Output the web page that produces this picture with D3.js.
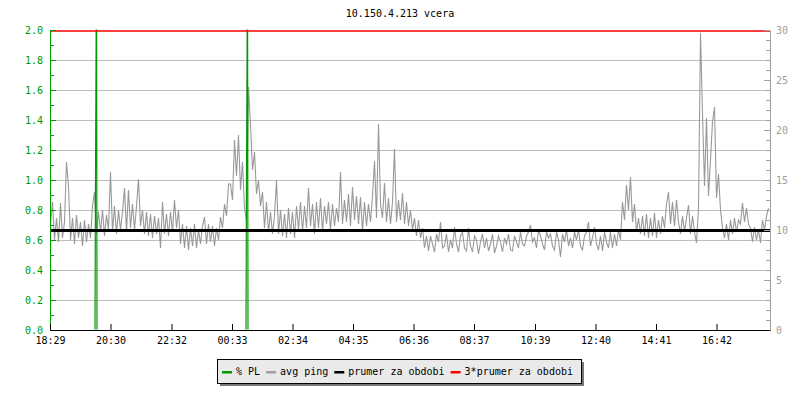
<!DOCTYPE html>
<html><head><meta charset="utf-8">
<script src="https://cdn.jsdelivr.net/npm/d3@7"></script>
<style>body{margin:0;background:#fff} svg{display:block} text{font-family:"DejaVu Sans Mono",monospace;font-size:10px}</style>
</head><body><svg id="c" width="800" height="400"></svg>
<script>
const title = "10.150.4.213 vcera";
const startLabel = "18:29";
const stepMinutes = 4;
const pingValues = [
10.6, 12.8, 9.0, 11.2, 8.8, 12.7, 9.2, 10.8, 16.8, 14.4,
9.0, 11.2, 8.6, 11.5, 9.2, 10.8, 8.4, 11.0, 8.8, 10.6,
9.2, 12.4, 13.8, 9.6, 11.8, 9.8, 12.0, 9.4, 11.5, 10.0,
15.8, 9.8, 12.4, 9.6, 12.0, 10.0, 11.8, 14.2, 9.8, 14.0,
10.2, 12.6, 10.0, 12.4, 15.1, 10.4, 12.0, 9.6, 11.8, 9.4,
11.6, 9.2, 11.4, 9.6, 11.2, 8.2, 12.8, 9.6, 11.6, 9.4,
11.8, 9.8, 13.0, 10.2, 12.0, 8.6, 10.6, 8.2, 10.4, 8.0,
10.2, 8.4, 10.6, 8.2, 10.0, 8.6, 10.4, 11.3, 8.6, 10.6,
8.8, 10.4, 8.4, 10.2, 9.0, 11.3, 10.2, 12.6, 11.4, 14.6,
14.6, 13.0, 19.0, 15.4, 19.5, 14.0, 16.8, 12.2, 11.0, 24.3,
20.5, 16.0, 17.8, 13.6, 15.0, 12.4, 13.8, 10.2, 12.8, 9.8,
11.8, 9.6, 11.4, 15.0, 9.6, 12.0, 9.4, 11.6, 9.2, 12.2,
9.6, 11.8, 9.2, 12.4, 10.0, 12.8, 9.8, 12.4, 10.2, 14.2,
10.4, 12.6, 9.6, 12.8, 10.2, 13.2, 9.8, 12.4, 10.6, 12.8,
10.0, 12.6, 10.4, 12.2, 10.8, 15.8, 10.6, 13.0, 10.8, 13.6,
10.4, 14.3, 11.0, 13.4, 10.6, 13.3, 9.8, 12.8, 10.4, 12.6,
10.8, 13.4, 16.9, 11.2, 20.6, 12.6, 11.2, 14.7, 10.8, 13.2,
10.6, 12.8, 18.1, 10.8, 13.0, 11.0, 13.7, 10.6, 12.8, 10.4,
12.0, 10.0, 11.2, 9.4, 11.0, 9.2, 10.2, 8.2, 9.4, 7.9,
9.4, 8.6, 7.8, 9.6, 8.8, 10.8, 8.2, 8.4, 9.6, 7.8,
9.0, 8.2, 10.3, 8.6, 7.8, 9.4, 9.8, 8.2, 7.9, 10.2,
8.4, 7.8, 9.4, 9.0, 7.6, 8.8, 9.6, 8.2, 9.2, 7.9,
8.6, 9.6, 7.7, 8.4, 9.4, 8.8, 7.8, 9.2, 8.6, 9.6,
8.0, 7.9, 9.4, 8.8, 8.2, 9.8, 8.6, 8.4, 9.4, 9.8,
10.5, 8.8, 9.2, 8.2, 10.0, 9.4, 8.6, 8.0, 9.8, 9.2,
9.6, 8.4, 8.0, 9.8, 9.0, 7.3, 9.6, 8.8, 10.0, 8.4,
9.2, 8.2, 9.8, 9.0, 10.0, 8.4, 8.0, 9.4, 9.8, 10.8,
8.4, 9.2, 10.3, 8.6, 8.0, 9.4, 7.9, 9.8, 8.8, 8.2,
9.8, 8.2, 9.6, 8.4, 10.0, 9.0, 12.8, 11.0, 14.5, 12.0,
15.3, 10.8, 12.6, 9.8, 11.2, 9.6, 11.4, 9.4, 11.6, 9.2,
11.2, 9.4, 11.7, 9.2, 11.0, 9.6, 11.4, 10.2, 12.6, 13.8,
10.6, 12.8, 10.4, 13.0, 10.8, 9.6, 11.4, 9.8, 11.2, 12.5,
9.6, 11.4, 9.8, 8.7, 12.2, 29.7, 21.7, 14.4, 21.2, 13.4,
17.0, 20.8, 22.3, 13.2, 15.6, 12.0, 10.2, 9.2, 10.6, 9.0,
11.0, 9.6, 11.2, 9.8, 11.0, 10.6, 12.7, 10.8, 12.2, 10.6,
10.2, 8.8, 10.3, 9.0, 10.0, 8.7, 11.0, 10.0, 11.4, 12.2
];
const plTimes  = ["19:58", "19:59", "20:01", "20:02", "01:00", "01:01", "01:03", "01:04"];
const plValues = [0, 1.0, 2.5, 0, 0, 1.0, 2.5, 0];
const meanPing = 9.97;
const xTickLabels = ["18:29","20:30","22:32","00:33","02:34","04:35","06:36","08:37","10:39","12:40","14:41","16:42"];
const leftTicks = [0.0,0.2,0.4,0.6,0.8,1.0,1.2,1.4,1.6,1.8,2.0];
const leftMinor = [0.1,0.3,0.5,0.7,0.9,1.1,1.3,1.5,1.7,1.9];
const rightTicks = [0,5,10,15,20,25,30];
const rightMinor = [1,2,3,4,6,7,8,9,11,12,13,14,16,17,18,19,21,22,23,24,26,27,28,29];
const legendLabels = ["% PL","avg ping","prumer za obdobi","3*prumer za obdobi"];
const legendColors = ["#009900","#a0a0a0","#000000","#ff0000"];

const GREEN = "#009900", GREY = "#999999", AXGREY = "#a0a0a0";
const svg = d3.select("#c");
const [sh, sm] = startLabel.split(":").map(Number);
const t0 = new Date(2024, 0, 1, sh, sm);
const t1 = new Date(t0.getTime() + 864e5);
const parseHM = s => { const [h, m] = s.split(":").map(Number); let d = new Date(2024, 0, 1, h, m); if (d < t0) d = new Date(d.getTime() + 864e5); return d; };

const L = 50, R = 770, T = 30, B = 330;
const x = d3.scaleTime().domain([t0, t1]).range([L, R]);
const yL = d3.scaleLinear().domain([0, 2]).range([B, T]);
const yR = d3.scaleLinear().domain([0, 30]).range([B, T]);

svg.append("text").attr("x", 400).attr("y", 17).attr("text-anchor", "middle").attr("fill", "#000").text(title);

// grid
svg.append("g").selectAll("line").data(leftTicks.filter(v => v > 0 && v < 2)).join("line")
  .attr("x1", L).attr("x2", R).attr("y1", d => Math.round(yL(d)) + 0.5).attr("y2", d => Math.round(yL(d)) + 0.5)
  .attr("stroke", "#bebebe").attr("stroke-width", 1);

svg.append("defs").append("clipPath").attr("id", "clip").append("rect")
  .attr("x", L).attr("y", T - 0.5).attr("width", R - L).attr("height", B - T);
const plot = svg.append("g").attr("clip-path", "url(#clip)");

const pingData = pingValues.map((v, i) => ({ t: new Date(t0.getTime() + i * stepMinutes * 60000), v }));
plot.append("path").datum(pingData)
  .attr("d", d3.line().x(d => x(d.t) + 0.5).y(d => yR(d.v)))
  .attr("fill", "none").attr("stroke", GREY).attr("stroke-width", 1.1);

// PL segments
const plData = plTimes.map((s, i) => ({ t: parseHM(s), v: plValues[i] })).sort((a, b) => a.t - b.t);
const segs = []; let cur = [];
plData.forEach((d, i) => {
  if (i > 0 && d.v === 0 && plData[i - 1].v === 0) { segs.push(cur); cur = []; }
  cur.push(d);
});
segs.push(cur);
plot.selectAll("path.pl").data(segs).join("path").attr("class", "pl")
  .attr("d", d3.line().x(d => x(d.t) + 0.5).y(d => yL(d.v)))
  .attr("fill", "none").attr("stroke", GREEN).attr("stroke-width", 1.2);

plot.append("line").attr("x1", L).attr("x2", R).attr("y1", yR(meanPing)).attr("y2", yR(meanPing))
  .attr("stroke", "#000").attr("stroke-width", 3).attr("shape-rendering", "crispEdges");
plot.append("line").attr("x1", L).attr("x2", R).attr("y1", yR(3 * meanPing)).attr("y2", yR(3 * meanPing))
  .attr("stroke", "#ff0000").attr("stroke-width", 1.5);

// left axis
const gl = svg.append("g").attr("transform", `translate(${L},0)`)
  .call(d3.axisLeft(yL).tickValues(leftTicks).tickFormat(d3.format(".1f")).tickSizeInner(-6).tickSizeOuter(0).tickPadding(7));
gl.selectAll("path,line").attr("stroke", GREEN);
gl.selectAll("text").attr("fill", GREEN).style("font-size", "10px").style("font-family", "DejaVu Sans Mono");
const glm = svg.append("g").attr("transform", `translate(${L},0)`)
  .call(d3.axisLeft(yL).tickValues(leftMinor).tickFormat("").tickSizeInner(-4).tickSizeOuter(0));
glm.select(".domain").remove(); glm.selectAll("line").attr("stroke", GREEN);

// right axis
const gr = svg.append("g").attr("transform", `translate(${R},0)`)
  .call(d3.axisRight(yR).tickValues(rightTicks).tickSizeInner(-6).tickSizeOuter(0).tickPadding(6));
gr.selectAll("path,line").attr("stroke", AXGREY);
gr.selectAll("text").attr("fill", AXGREY).style("font-size", "10px").style("font-family", "DejaVu Sans Mono");
const grm = svg.append("g").attr("transform", `translate(${R},0)`)
  .call(d3.axisRight(yR).tickValues(rightMinor).tickFormat("").tickSizeInner(-4).tickSizeOuter(0));
grm.select(".domain").remove(); grm.selectAll("line").attr("stroke", AXGREY);

// bottom axis
const tickDates = xTickLabels.map(parseHM);
const gb = svg.append("g").attr("transform", `translate(0,${B})`)
  .call(d3.axisBottom(x).tickValues(tickDates).tickFormat((d, i) => xTickLabels[i]).tickSizeInner(-6).tickSizeOuter(0).tickPadding(7));
gb.selectAll("path,line").attr("stroke", "#000");
gb.selectAll("text").attr("fill", "#000").style("font-size", "10px").style("font-family", "DejaVu Sans Mono");

// legend
const lg = svg.append("g");
const lx0 = 217, ly0 = 359, lw = 364, lh = 24;
lg.append("rect").attr("x", lx0 + 3).attr("y", ly0 + 3).attr("width", lw).attr("height", lh).attr("fill", "#777");
lg.append("rect").attr("x", lx0 + 0.5).attr("y", ly0 + 0.5).attr("width", lw).attr("height", lh).attr("fill", "#eaeaea").attr("stroke", "#000");
let cx = 222;
legendLabels.forEach((lab, i) => {
  lg.append("rect").attr("x", cx).attr("y", 371).attr("width", 10).attr("height", 2.5).attr("fill", legendColors[i]);
  const t = lg.append("text").attr("x", cx + 14).attr("y", 374.5).attr("fill", "#000").text(lab);
  cx += 14 + t.node().getComputedTextLength() + 6;
});
</script></body></html>
